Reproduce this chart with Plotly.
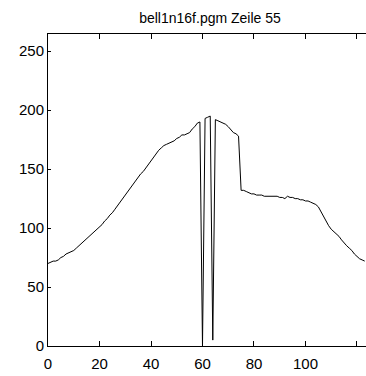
import plotly.graph_objects as go

# Row index (pixel column) and grey value along line 55
x_vals = list(range(124))
y_vals = [
    70, 71, 72, 72, 73, 75, 76, 78, 79, 80,
    81, 83, 85, 87, 89, 91, 93, 95, 97, 99,
    101, 103, 106, 108, 111, 113, 116, 119, 122, 125,
    128, 131, 134, 137, 140, 143, 146, 148, 151, 154,
    158, 161, 164, 166, 168, 170, 171, 172, 173, 174,
    176, 177, 179, 179, 180, 181, 184, 186, 189, 190,
    0, 193, 194, 195, 5, 192, 191, 190, 189, 188,
    186, 183, 181, 180, 178, 132, 132, 131, 130, 129,
    129, 128, 128, 128, 127, 127, 127, 127, 127, 127,
    126, 126, 125, 127, 126, 126, 125, 125, 124, 124,
    123, 123, 122, 121, 120, 118, 114, 109, 105, 102,
    99, 97, 95, 93, 90, 87, 85, 83, 81, 78,
    76, 74, 73, 72,
]
x_ticks = [0, 20, 40, 60, 80, 100, 120]
y_ticks = [0, 50, 100, 150, 200, 250]
title_text = "bell1n16f.pgm Zeile 55"

FONT = "Liberation Sans Narrow, Arial Narrow, Liberation Sans, Arial, sans-serif"

fig = go.Figure(go.Scatter(x=x_vals, y=y_vals, mode="lines",
                           line=dict(color="black", width=1), showlegend=False,
                           hoverinfo="skip"))

fig.update_layout(
    width=366, height=376,
    margin=dict(l=48, r=0, t=34, b=30),
    paper_bgcolor="white", plot_bgcolor="white",
    font=dict(family=FONT, size=15, color="black"),
    title=dict(text=title_text, xref="container", x=210 / 366, xanchor="center",
               yref="container", y=1 - 18 / 376, yanchor="middle",
               font=dict(family=FONT, size=14, color="black")),
)
fig.update_xaxes(range=[0, 123.5], tickvals=x_ticks, ticks="inside", ticklen=5,
                 tickcolor="black", showline=True, linecolor="black", linewidth=1,
                 mirror="ticks", showgrid=False, zeroline=False, ticklabelstandoff=4)
fig.update_yaxes(range=[0, 264.6], tickvals=y_ticks, ticks="inside", ticklen=3,
                 tickcolor="black", showline=True, linecolor="black", linewidth=1,
                 showgrid=False, zeroline=False)

fig.write_html(
    "out.html",
    config={"displayModeBar": False},
    post_script="document.body.style.margin='0';document.body.style.overflow='hidden';",
)
